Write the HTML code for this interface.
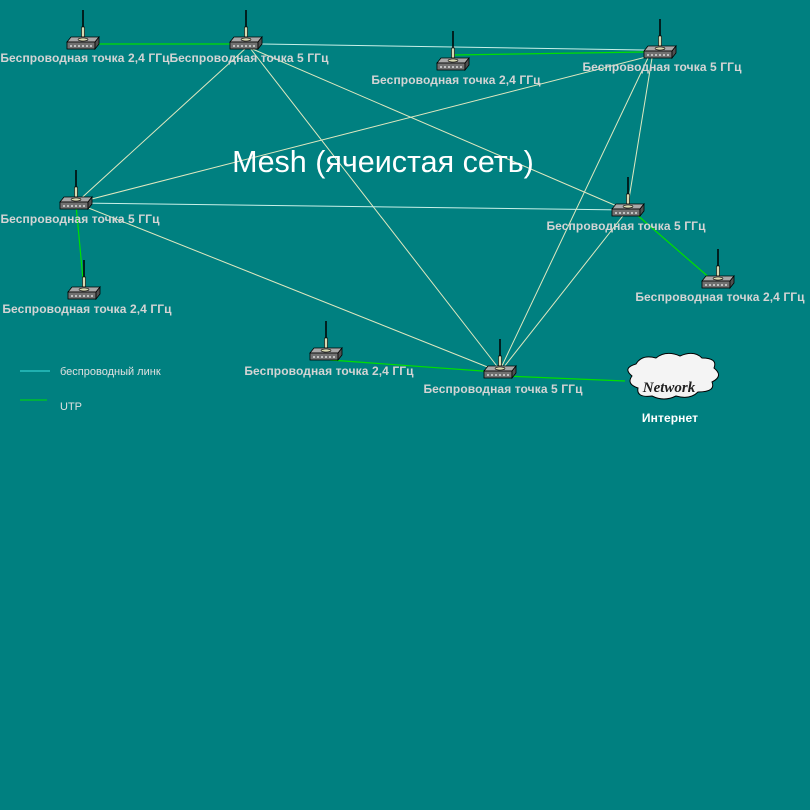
<!DOCTYPE html>
<html><head><meta charset="utf-8"><style>
body{margin:0;background:#008080;}
svg{display:block}
.l{font-family:"Liberation Sans",sans-serif;font-weight:bold;font-size:12px;letter-spacing:0.1px;fill:#d4d4d4;text-anchor:middle}
</style></head><body>
<svg width="810" height="810" viewBox="0 0 810 810">
<defs>
<g id="r">
<line x1="16" y1="-27" x2="16" y2="0" stroke="#000" stroke-width="1.5"/>
<rect x="14.5" y="-10" width="3" height="10" fill="#d8d8b0" stroke="#000" stroke-width="0.6"/>
<polygon points="0,5 4,0 32,0 28,5" fill="#a8a8a8" stroke="#000" stroke-width="0.8"/>
<ellipse cx="16" cy="2.5" rx="5" ry="1.5" fill="#d8d8b0" stroke="#000" stroke-width="0.6"/>
<rect x="0" y="5" width="28" height="7" fill="#707070" stroke="#000" stroke-width="0.8"/>
<polygon points="28,5 32,0 32,7 28,12" fill="#505050" stroke="#000" stroke-width="0.8"/>
<g fill="#c0c0c0"><rect x="3" y="8" width="2" height="2"/><rect x="7" y="8" width="2" height="2"/><rect x="11" y="8" width="2" height="2"/><rect x="15" y="8" width="2" height="2"/><rect x="19" y="8" width="2" height="2"/><rect x="23" y="8" width="2" height="2"/></g>
</g>
</defs>
<g stroke="#e0e8c0" stroke-width="1" fill="none">
<line x1="262" y1="44" x2="645" y2="50" stroke="#c8f0e8"/>
<line x1="246" y1="48" x2="76" y2="203"/>
<line x1="250" y1="48" x2="626" y2="210"/>
<line x1="250" y1="48" x2="500" y2="370"/>
<line x1="76" y1="203" x2="650" y2="56"/>
<line x1="76" y1="203" x2="628" y2="210" stroke="#c8f0e8"/>
<line x1="76" y1="203" x2="500" y2="372"/>
<line x1="648" y1="58" x2="500" y2="370"/>
<line x1="652" y1="58" x2="628" y2="205"/>
<line x1="626" y1="212" x2="500" y2="372"/>
</g>
<g stroke="#00e000" stroke-width="1.2" fill="none">
<line x1="99" y1="44" x2="234" y2="44"/>
<line x1="453" y1="55" x2="645" y2="52"/>
<line x1="76" y1="205" x2="84" y2="290"/>
<line x1="636" y1="214" x2="712" y2="280"/>
<line x1="330" y1="360" x2="496" y2="372"/>
<line x1="505" y1="376" x2="625" y2="381"/>
</g>
<use href="#r" x="67" y="37"/>
<use href="#r" x="230" y="37"/>
<use href="#r" x="437" y="58"/>
<use href="#r" x="644" y="46"/>
<use href="#r" x="60" y="197"/>
<use href="#r" x="612" y="204"/>
<use href="#r" x="68" y="287"/>
<use href="#r" x="702" y="276"/>
<use href="#r" x="310" y="348"/>
<use href="#r" x="484" y="366"/>
<path d="M632,376 q-10,-8 4,-12 q6,-10 20,-6 q10,-8 24,-2 q14,-6 22,2 q16,0 12,10 q10,8 -2,14 q4,10 -14,10 q-8,8 -22,4 q-12,6 -24,0 q-16,2 -14,-8 q-12,-4 -6,-12z" fill="#f4f4f4" stroke="#000" stroke-width="1"/>
<text x="669" y="392" font-family="Liberation Serif,serif" font-style="italic" font-weight="bold" font-size="15" text-anchor="middle" fill="#202020">Network</text>
<text class="l" x="670" y="422" style="fill:#fff">Интернет</text>
<text class="l" x="85" y="62">Беспроводная точка 2,4 ГГц</text>
<text class="l" x="249" y="62">Беспроводная точка 5 ГГц</text>
<text class="l" x="456" y="84">Беспроводная точка 2,4 ГГц</text>
<text class="l" x="662" y="71">Беспроводная точка 5 ГГц</text>
<text class="l" x="80" y="223">Беспроводная точка 5 ГГц</text>
<text class="l" x="626" y="230">Беспроводная точка 5 ГГц</text>
<text class="l" x="87" y="313">Беспроводная точка 2,4 ГГц</text>
<text class="l" x="720" y="301">Беспроводная точка 2,4 ГГц</text>
<text class="l" x="329" y="375">Беспроводная точка 2,4 ГГц</text>
<text class="l" x="503" y="393">Беспроводная точка 5 ГГц</text>
<text x="383" y="172" font-family="Liberation Sans,sans-serif" font-size="30.5" fill="#fff" text-anchor="middle">Mesh (ячеистая сеть)</text>
<line x1="20" y1="371" x2="50" y2="371" stroke="#40e0e0"/>
<text x="60" y="375" font-family="Liberation Sans,sans-serif" font-size="11" fill="#e0e0e0">беспроводный линк</text>
<line x1="20" y1="400" x2="47" y2="400" stroke="#00e000"/>
<text x="60" y="410" font-family="Liberation Sans,sans-serif" font-size="11" fill="#e0e0e0">UTP</text>
</svg>
</body></html>
